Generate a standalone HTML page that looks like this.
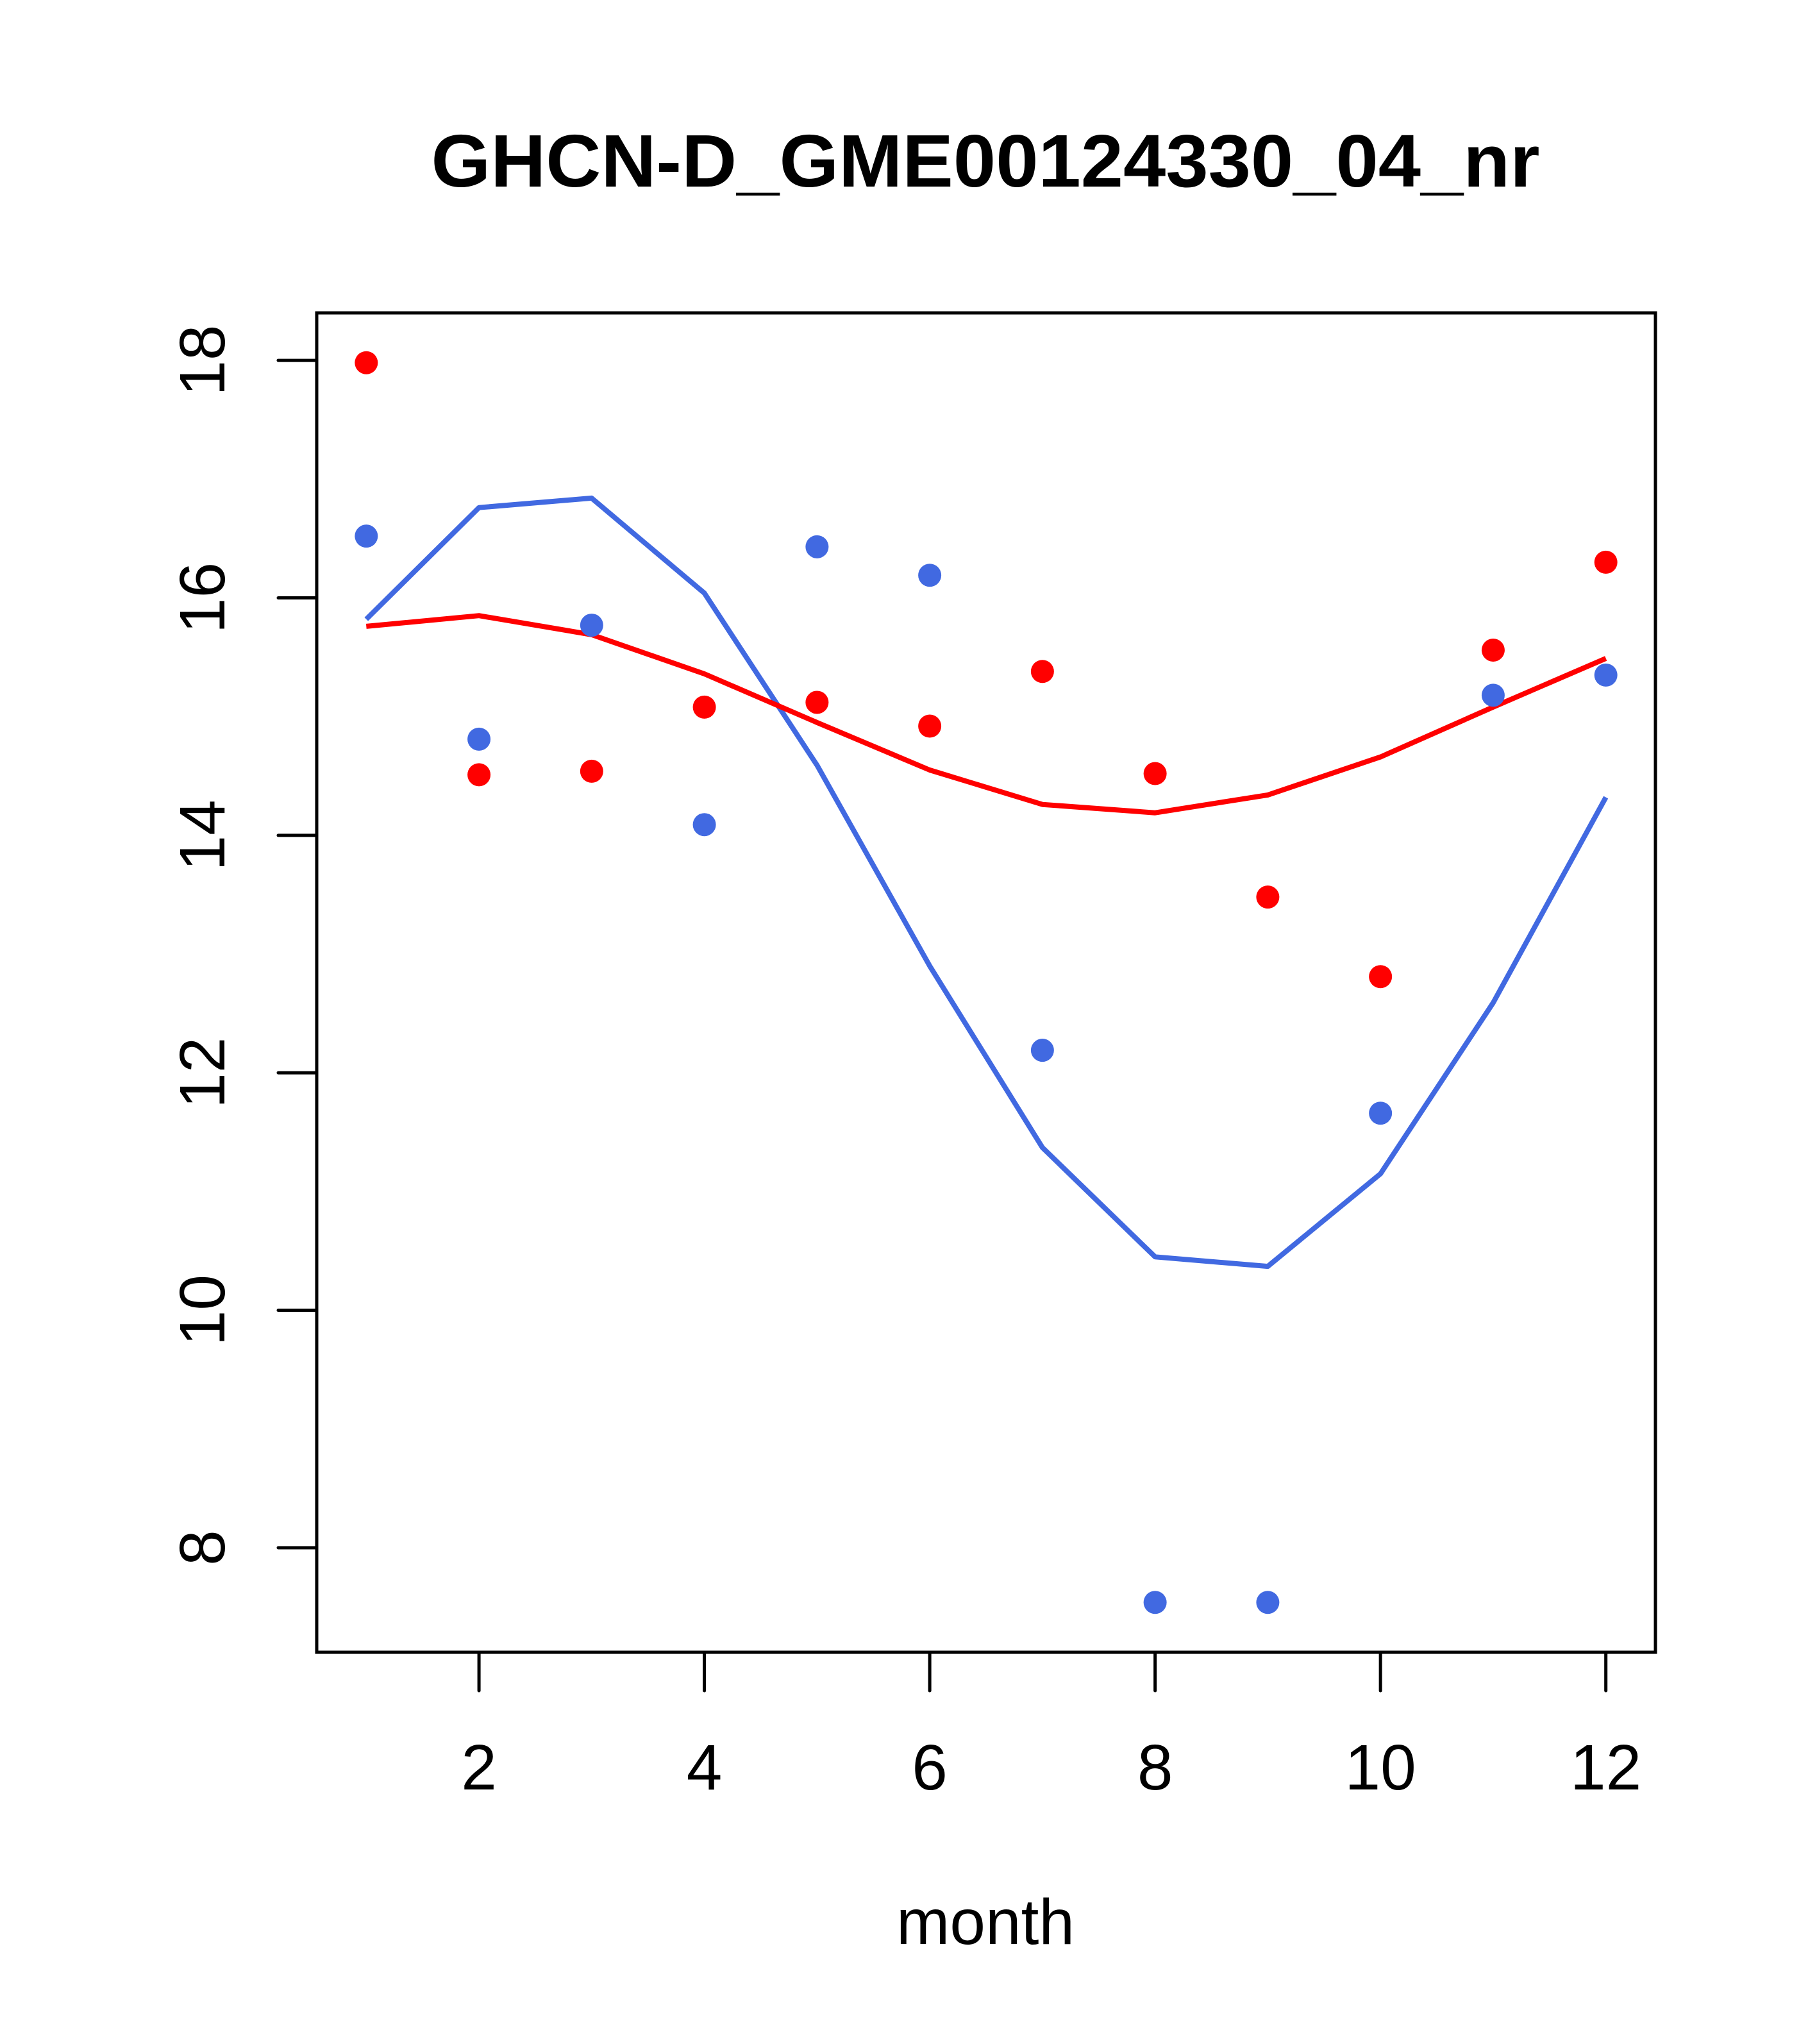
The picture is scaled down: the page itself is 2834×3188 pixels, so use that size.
<!DOCTYPE html>
<html><head><meta charset="utf-8"><style>
html,body{margin:0;padding:0;background:#fff}
svg{display:block}
text{font-family:"Liberation Sans",sans-serif;fill:#000}
</style></head><body>
<svg id="chart" width="2834" height="3188" viewBox="0 0 2834 3188" xmlns="http://www.w3.org/2000/svg">
<rect width="2834" height="3188" fill="#fff"/>
<text x="1537" y="291" font-size="116" font-weight="bold" text-anchor="middle" textLength="1729" lengthAdjust="spacingAndGlyphs">GHCN-D_GME00124330_04_nr</text>
<text x="1537" y="3032" font-size="100" text-anchor="middle">month</text>
<g id="marks"></g>
<rect x="494" y="488" width="2088" height="2089" fill="none" stroke="#000" stroke-width="5"/>
<g id="axes"></g>
</svg>
<script>
const months = [1,2,3,4,5,6,7,8,9,10,11,12];
const redPoints = [17.98,14.51,14.54,15.08,15.12,14.92,15.38,14.52,13.48,12.81,15.56,16.30];
const bluePoints = [16.52,14.81,15.77,14.09,16.43,16.19,12.19,7.54,7.54,11.66,15.18,15.35];
const redLine = [15.76,15.85,15.69,15.36,14.95,14.55,14.26,14.19,14.34,14.66,15.08,15.49];
const blueLine = [15.82,16.76,16.84,16.04,14.59,12.90,11.37,10.45,10.37,11.15,12.59,14.32];
const xTicks = [2,4,6,8,10,12];
const yTicks = [8,10,12,14,16,18];

const NS = 'http://www.w3.org/2000/svg';
const X0 = 494, X1 = 2582, Y0 = 488, Y1 = 2577;
const xmin = 0.56, xmax = 12.44, ymin = 7.12, ymax = 18.40;
function xs(v){ return X0 + (v - xmin) / (xmax - xmin) * (X1 - X0); }
function ys(v){ return Y1 - (v - ymin) / (ymax - ymin) * (Y1 - Y0); }
function mk(tag, attrs, parent){
  const e = document.createElementNS(NS, tag);
  for (const k in attrs) e.setAttribute(k, attrs[k]);
  parent.appendChild(e);
  return e;
}
const marks = document.getElementById('marks');
const axes = document.getElementById('axes');

function drawLine(vals, color, name){
  const pts = vals.map((v,i) => xs(months[i]).toFixed(1) + ',' + ys(v).toFixed(1)).join(' ');
  const pl = mk('polyline', {points: pts, fill: 'none', stroke: color, 'stroke-width': 8, 'stroke-linejoin': 'round'}, marks);
  
  
}
function drawPoints(vals, color, name){
  vals.forEach((v,i) => {
    const c = mk('circle', {cx: xs(months[i]), cy: ys(v), r: 18, fill: color}, marks);
    
    
  });
}
drawLine(blueLine, '#4169E1', 'blue-line');
drawLine(redLine, '#FF0000', 'red-line');
drawPoints(bluePoints, '#4169E1', 'blue-point');
drawPoints(redPoints, '#FF0000', 'red-point');

const xAxis = mk('line', {x1: xs(xTicks[0]), x2: xs(xTicks[xTicks.length-1]), y1: Y1, y2: Y1, stroke: '#000', 'stroke-width': 5}, axes);


xTicks.forEach(t => {
  const l = mk('line', {x1: xs(t), x2: xs(t), y1: Y1, y2: Y1 + 60, stroke: '#000', 'stroke-width': 5, 'stroke-linecap': 'round'}, axes);
  
  
  const tx = mk('text', {x: xs(t), y: 2791, 'font-size': 100, 'text-anchor': 'middle'}, axes);
  tx.textContent = t;
  
  
});
const yAxis = mk('line', {x1: X0, x2: X0, y1: ys(yTicks[0]), y2: ys(yTicks[yTicks.length-1]), stroke: '#000', 'stroke-width': 5}, axes);


yTicks.forEach(t => {
  const y = ys(t);
  const l = mk('line', {x1: X0 - 60, x2: X0, y1: y, y2: y, stroke: '#000', 'stroke-width': 5, 'stroke-linecap': 'round'}, axes);
  
  
  const tx = mk('text', {x: 0, y: 0, 'font-size': 100, 'text-anchor': 'middle', transform: 'translate(350,' + y + ') rotate(-90)'}, axes);
  tx.textContent = t;
  
  
});
</script>
</body></html>
